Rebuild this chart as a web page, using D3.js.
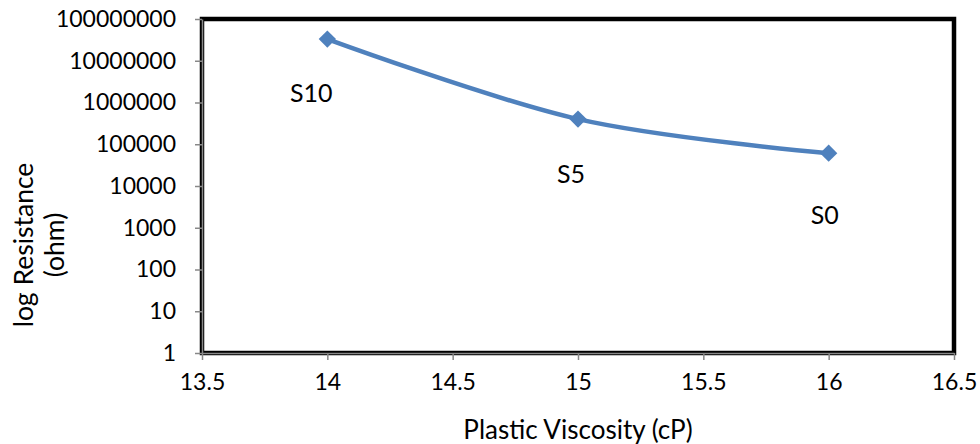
<!DOCTYPE html>
<html>
<head>
<meta charset="utf-8">
<script src="https://cdn.jsdelivr.net/npm/d3@7"></script>
<style>
  body { margin: 0; background: #fff; }
  svg text { font-family: Lato, "Open Sans", sans-serif; fill: #000; }
</style>
</head>
<body>
<svg id="chart"></svg>
<script>
// data
const viscosity = [14, 15, 16]
const resistance = [3.3e7, 4.0e5, 6.1e4]
const sampleNames = ['S10', 'S5', 'S0']
const xTicks = [13.5, 14, 14.5, 15, 15.5, 16, 16.5]
const yTicks = [1, 10, 100, 1000, 10000, 100000, 1000000, 10000000, 100000000]

const width = 980, height = 444
const margin = {top: 19, right: 26, bottom: 91, left: 202}

const svg = d3.select('#chart')
  .attr('width', width)
  .attr('height', height)

const x = d3.scaleLinear().domain([13.5, 16.5]).range([margin.left, width - margin.right])
const y = d3.scaleLog().domain([1, 1e8]).range([height - margin.bottom, margin.top])

// plot frame
svg.append('rect')
  .attr('x', margin.left).attr('y', margin.top)
  .attr('width', x(16.5) - margin.left)
  .attr('height', y(1) - margin.top)
  .attr('fill', 'none')
  .attr('stroke', '#000')
  .attr('stroke-width', 4.5)

const xAxis = svg.append('g')
  .attr('transform', `translate(0,${y(1)})`)
  .call(d3.axisBottom(x).tickValues(xTicks).tickFormat(d3.format('')).tickSize(7).tickPadding(14).tickSizeOuter(0))
const yAxis = svg.append('g')
  .attr('transform', `translate(${margin.left},0)`)
  .call(d3.axisLeft(y).tickValues(yTicks).tickFormat(d3.format('d')).tickSize(7).tickPadding(19).tickSizeOuter(0))

;[xAxis, yAxis].forEach(g => {
  g.select('.domain').attr('stroke', '#888').attr('stroke-width', 1.5)
  g.selectAll('.tick line').attr('stroke', '#888').attr('stroke-width', 1.5)
  g.selectAll('.tick text').style('font-size', '23px').style('font-family', 'Lato, sans-serif')
})

const pts = viscosity.map((v, i) => ({v: v, r: resistance[i], name: sampleNames[i]}))

const line = d3.line()
  .x(d => x(d.v))
  .y(d => y(d.r))
  .curve(d3.curveCardinal.tension(0))

svg.append('path')
  .datum(pts)
  .attr('d', line)
  .attr('fill', 'none')
  .attr('stroke', '#4F81BD')
  .attr('stroke-width', 4.5)

svg.selectAll('.marker')
  .data(pts)
  .enter()
  .append('path')
  .attr('class', 'marker')
  .attr('d', d3.symbol(d3.symbolSquare, 150))
  .attr('transform', d => `translate(${x(d.v)},${y(d.r)}) rotate(45)`)
  .attr('fill', '#4F81BD')

// sample labels sit below-left of each point
const labelOffsets = [[-16, 53], [-7, 54], [-4, 61]]
svg.selectAll('.sample')
  .data(pts)
  .enter()
  .append('text')
  .attr('x', (d, i) => x(d.v) + labelOffsets[i][0])
  .attr('y', (d, i) => y(d.r) + labelOffsets[i][1])
  .attr('text-anchor', 'middle')
  .attr('dominant-baseline', 'central')
  .style('font-size', '25px')
  .text(d => d.name)

svg.append('text')
  .attr('x', 578)
  .attr('y', 429)
  .attr('text-anchor', 'middle')
  .attr('dominant-baseline', 'central')
  .style('font-size', '26px')
  .text('Plastic Viscosity (cP)')

const yTitle = svg.append('text')
  .attr('transform', 'translate(24,245) rotate(-90)')
  .attr('text-anchor', 'middle')
  .style('font-size', '26.5px')
yTitle.append('tspan').attr('x', 0).attr('dy', '0.35em').text('log Resistance')
yTitle.append('tspan').attr('x', 0).attr('dy', 31).text('(ohm)')
</script>
</body>
</html>
